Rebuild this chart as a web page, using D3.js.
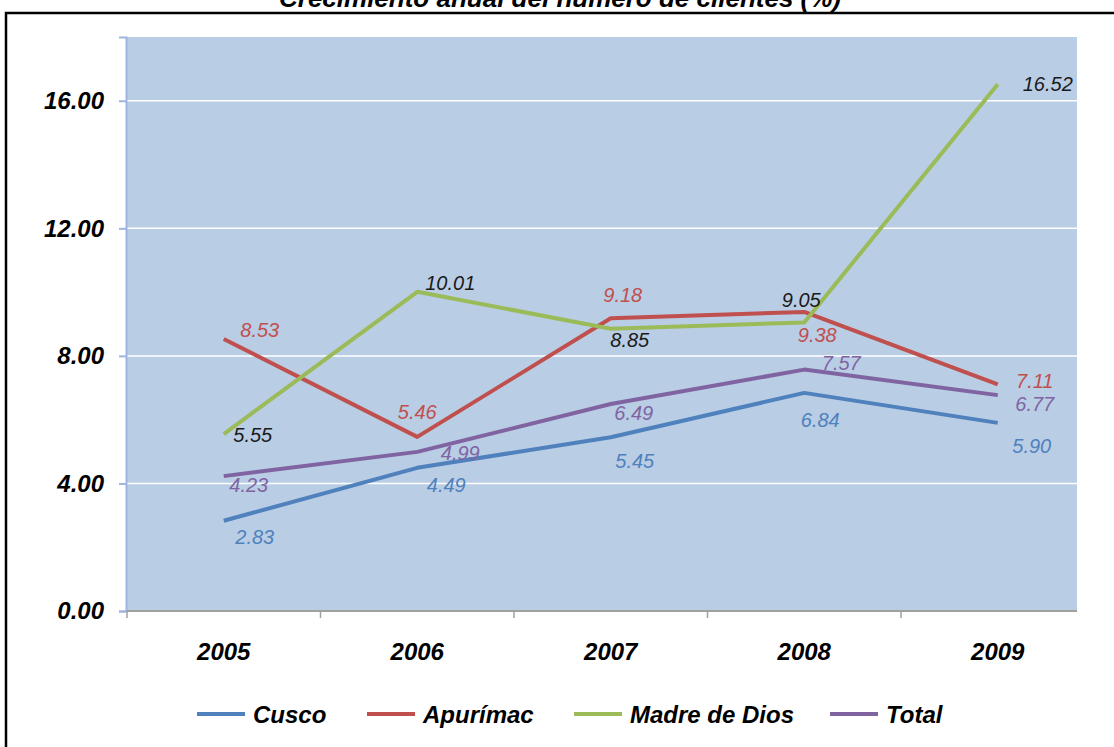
<!DOCTYPE html>
<html>
<head>
<meta charset="utf-8">
<script src="https://cdn.jsdelivr.net/npm/d3@7"></script>
<style>
  body { margin: 0; background: #fff; }
  text { font-family: "Liberation Sans", Arial, sans-serif; font-style: italic; }
</style>
</head>
<body>
<svg id="chart"></svg>
<script>
var width = 1114, height = 747;
var svg = d3.select("#chart").attr("width", width).attr("height", height);

// data
var years = ["2005", "2006", "2007", "2008", "2009"];
var cusco = [2.83, 4.49, 5.45, 6.84, 5.90];
var apurimac = [8.53, 5.46, 9.18, 9.38, 7.11];
var madreDeDios = [5.55, 10.01, 8.85, 9.05, 16.52];
var total = [4.23, 4.99, 6.49, 7.57, 6.77];
var yTicks = [0, 4, 8, 12, 16];

var series = [
  {name: "Cusco", values: cusco, color: "#4F81BD", labelColor: "#4F81BD"},
  {name: "Apurímac", values: apurimac, color: "#C0504D", labelColor: "#C0504D"},
  {name: "Madre de Dios", values: madreDeDios, color: "#9BBB59", labelColor: "#1a1a1a"},
  {name: "Total", values: total, color: "#8064A2", labelColor: "#8064A2"}
];

// hand placed label offsets (like the original chart)
var labelOffsets = {
  "Cusco": [[31, 16], [29, 17], [24, 24], [16, 27], [34, 23]],
  "Apurímac": [[36, -9], [0, -25], [12, -23], [13, 23], [37, -3]],
  "Madre de Dios": [[29, 1], [33, -9], [19, 11], [-3, -23], [50, 0]],
  "Total": [[25, 9], [43, 1], [23, 9], [37, -7], [37, 9]]
};

var plotLeft = 127, plotRight = 1077, plotTop = 37, plotBottom = 611;

var x = d3.scalePoint().domain(years).range([plotLeft, plotLeft + 5 * 193.5]).padding(0.5);
var y = d3.scaleLinear().domain([0, 18]).range([plotBottom, plotTop]);

// title (cut at the top)
svg.append("text").attr("x", 560).attr("y", 7).attr("text-anchor", "middle")
  .style("font-size", "26px").style("font-weight", "bold").text("Crecimiento anual del número de clientes (%)");

// frame
svg.append("path").attr("d", "M6," + height + " V13 H" + width)
  .attr("fill", "none").attr("stroke", "#000").attr("stroke-width", 2.5);

// plot background
svg.append("rect").attr("x", plotLeft - 1).attr("y", plotTop)
  .attr("width", plotRight - plotLeft + 1).attr("height", plotBottom - plotTop)
  .attr("fill", "#B9CDE5");

// gridlines
svg.append("g").selectAll("line").data(yTicks.filter(function(d) { return d > 0; })).enter().append("line")
  .attr("x1", plotLeft).attr("x2", plotRight)
  .attr("y1", function(d) { return y(d); }).attr("y2", function(d) { return y(d); })
  .attr("stroke", "#fff").attr("stroke-width", 1.5);

// y axis
var yAxis = svg.append("g").attr("transform", "translate(" + (plotLeft - 1) + ",0)")
  .call(d3.axisLeft(y).tickValues(yTicks).tickSize(7).tickPadding(15).tickFormat(d3.format(".2f")));
yAxis.select(".domain").attr("stroke", "#9DB5E0").attr("stroke-width", 2);
yAxis.selectAll(".tick line").attr("stroke", "#9DB5E0").attr("stroke-width", 2);
yAxis.selectAll(".tick text").attr("fill", "#000")
  .style("font-size", "24px").style("font-weight", "bold").style("font-family", "Liberation Sans, Arial, sans-serif").style("font-style", "italic");

// x axis
var xAxis = svg.append("g").attr("transform", "translate(0," + plotBottom + ")");
xAxis.append("line").attr("x1", plotLeft).attr("x2", plotRight).attr("y1", 0).attr("y2", 0)
  .attr("stroke", "#A0A0A0").attr("stroke-width", 2);
var bandStep = x.step();
xAxis.selectAll(".xtick").data(years).enter().append("line")
  .attr("x1", function(d) { return x(d) - bandStep / 2; })
  .attr("x2", function(d) { return x(d) - bandStep / 2; })
  .attr("y1", 0).attr("y2", 7).attr("stroke", "#A0A0A0").attr("stroke-width", 1.5);
xAxis.selectAll(".xlabel").data(years).enter().append("text")
  .attr("x", function(d) { return x(d); }).attr("y", 49).attr("text-anchor", "middle")
  .style("font-size", "24px").style("font-weight", "bold").text(function(d) { return d; });

// lines
var line = d3.line().x(function(d, i) { return x(years[i]); }).y(function(d) { return y(d); });
svg.append("g").selectAll("path").data(series).enter().append("path")
  .attr("d", function(s) { return line(s.values); })
  .attr("fill", "none").attr("stroke", function(s) { return s.color; })
  .attr("stroke-width", 4).attr("stroke-linejoin", "round");

// data labels
series.forEach(function(s) {
  svg.append("g").selectAll("text").data(s.values).enter().append("text")
    .attr("x", function(d, i) { return x(years[i]) + labelOffsets[s.name][i][0]; })
    .attr("y", function(d, i) { return y(d) + labelOffsets[s.name][i][1]; })
    .attr("dy", "0.36em").attr("text-anchor", "middle")
    .attr("fill", s.labelColor).style("font-size", "20px")
    .text(function(d) { return d3.format(".2f")(d); });
});

// legend
var legendX = [197, 367, 574, 830];
var legend = svg.append("g").selectAll("g").data(series).enter().append("g")
  .attr("transform", function(d, i) { return "translate(" + legendX[i] + ",714)"; });
legend.append("line").attr("x1", 0).attr("x2", 48).attr("y1", 0).attr("y2", 0)
  .attr("stroke", function(d) { return d.color; }).attr("stroke-width", 4);
legend.append("text").attr("x", 56).attr("y", 9)
  .style("font-size", "24px").style("font-weight", "bold").text(function(d) { return d.name; });
</script>
</body>
</html>
